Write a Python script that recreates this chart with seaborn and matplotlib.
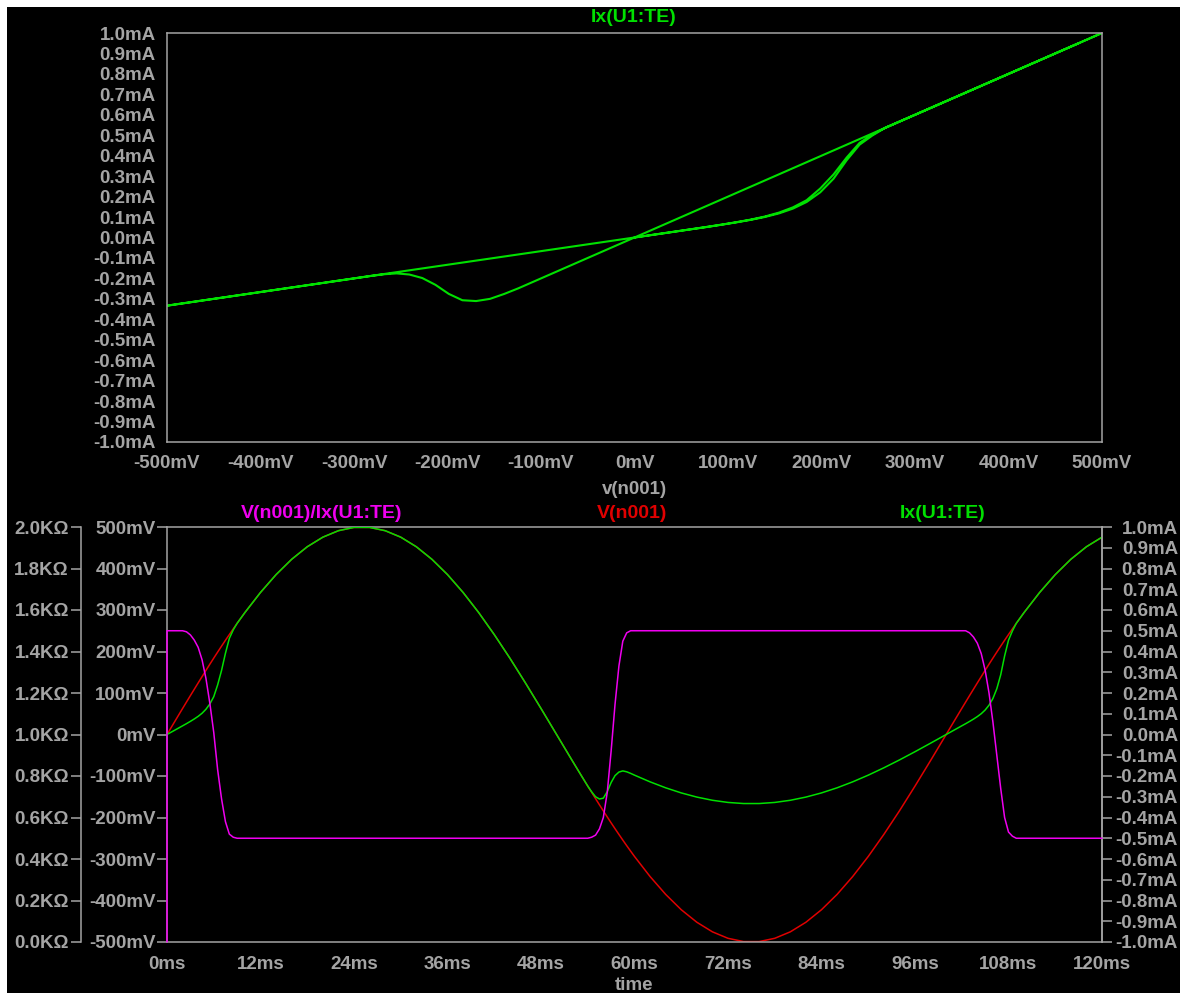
import matplotlib
matplotlib.use("Agg")
import matplotlib.pyplot as plt
from matplotlib.patches import Rectangle
import seaborn as sns

# ---- transient samples -------------------------------------------------
t_ms = [0, 0, 0.5, 1, 1.5, 2, 2.5, 3, 3.5, 4, 4.5, 5, 5.5, 6, 6.5, 7, 7.5, 8, 8.5, 9,
        10, 12, 14, 16, 18, 20, 22, 24, 26, 28, 30, 32, 34, 36, 38, 40, 42, 44, 46, 48, 50, 52,
        53, 53.5, 54, 54.5, 55, 55.5, 56, 56.5, 57, 57.5, 58, 58.5, 59, 59.5, 60,
        62, 64, 66, 68, 70, 72, 74, 76, 78, 80, 82, 84, 86, 88, 90, 92, 94, 96, 98, 100,
        101, 102, 102.5, 103, 103.5, 104, 104.5, 105, 105.5, 106, 106.5, 107, 107.5, 108, 108.5, 109,
        110, 112, 114, 116, 118, 120]

# V(n001) in mV
v_n001_mv = [0, 0, 15.7, 31.4, 47.1, 62.7, 78.2, 93.7, 109.0, 124.3, 139.4, 154.5, 169.4, 184.1, 198.6, 212.9, 227.0, 240.8, 254.5, 267.9,
             293.9, 342.3, 385.3, 422.2, 452.4, 475.5, 491.1, 499.0, 499.0, 491.1, 475.5, 452.4, 422.2, 385.3, 342.3, 293.9, 240.8, 184.1, 124.3, 62.7, 0.0, -62.7,
             -93.7, -109.0, -124.3, -139.4, -154.5, -169.4, -184.1, -198.6, -212.9, -227.0, -240.8, -254.5, -267.9, -281.0, -293.9,
             -342.3, -385.3, -422.2, -452.4, -475.5, -491.1, -499.0, -499.0, -491.1, -475.5, -452.4, -422.2, -385.3, -342.3, -293.9, -240.8, -184.1, -124.3, -62.7, 0.0,
             31.4, 62.7, 78.2, 93.7, 109.0, 124.3, 139.4, 154.5, 169.4, 184.1, 198.6, 212.9, 227.0, 240.8, 254.5, 267.9,
             293.9, 342.3, 385.3, 422.2, 452.4, 475.5]

# Ix(U1:TE) in mA
ix_te_ma = [0, 0, 0.0105, 0.0209, 0.0314, 0.0418, 0.0523, 0.0633, 0.0749, 0.0875, 0.1025, 0.1217, 0.1473, 0.1823, 0.2393, 0.3086, 0.3914, 0.4631, 0.5040, 0.5358,
            0.5878, 0.6846, 0.7706, 0.8444, 0.9048, 0.9510, 0.9822, 0.9980, 0.9980, 0.9822, 0.9510, 0.9048, 0.8444, 0.7706, 0.6846, 0.5878, 0.4816, 0.3682, 0.2486, 0.1254, 0.0, -0.1254,
            -0.1874, -0.2180, -0.2486, -0.2761, -0.3000, -0.3108, -0.3068, -0.2758, -0.2314, -0.1982, -0.1810, -0.1755, -0.1798, -0.1873, -0.1959,
            -0.2282, -0.2569, -0.2815, -0.3016, -0.3170, -0.3274, -0.3327, -0.3327, -0.3274, -0.3170, -0.3016, -0.2815, -0.2569, -0.2282, -0.1959, -0.1605, -0.1227, -0.0829, -0.0418, 0.0,
            0.0209, 0.0418, 0.0521, 0.0629, 0.0741, 0.0863, 0.1003, 0.1179, 0.1412, 0.1737, 0.2207, 0.2877, 0.3783, 0.4543, 0.4990, 0.5358,
            0.5878, 0.6846, 0.7706, 0.8444, 0.9048, 0.9510]

# V(n001)/Ix(U1:TE) in kOhm
r_kohm = [0, 1.5, 1.5, 1.5, 1.5, 1.5, 1.495, 1.48, 1.455, 1.42, 1.36, 1.27, 1.15, 1.01, 0.83, 0.69, 0.58, 0.52, 0.505, 0.5,
          0.5, 0.5, 0.5, 0.5, 0.5, 0.5, 0.5, 0.5, 0.5, 0.5, 0.5, 0.5, 0.5, 0.5, 0.5, 0.5, 0.5, 0.5, 0.5, 0.5, 0.5, 0.5,
          0.5, 0.5, 0.5, 0.505, 0.515, 0.545, 0.60, 0.72, 0.92, 1.145, 1.33, 1.45, 1.49, 1.5, 1.5,
          1.5, 1.5, 1.5, 1.5, 1.5, 1.5, 1.5, 1.5, 1.5, 1.5, 1.5, 1.5, 1.5, 1.5, 1.5, 1.5, 1.5, 1.5, 1.5, 1.5,
          1.5, 1.5, 1.5, 1.49, 1.47, 1.44, 1.39, 1.31, 1.20, 1.06, 0.90, 0.74, 0.60, 0.53, 0.51, 0.5,
          0.5, 0.5, 0.5, 0.5, 0.5, 0.5]

# ---- axis ticks ----------------------------------------------------------
mv_ticks = [-500, -400, -300, -200, -100, 0, 100, 200, 300, 400, 500]
ma_ticks = [-1.0, -0.9, -0.8, -0.7, -0.6, -0.5, -0.4, -0.3, -0.2, -0.1, 0.0,
            0.1, 0.2, 0.3, 0.4, 0.5, 0.6, 0.7, 0.8, 0.9, 1.0]
kohm_ticks = [0.0, 0.2, 0.4, 0.6, 0.8, 1.0, 1.2, 1.4, 1.6, 1.8, 2.0]
ms_ticks = [0, 12, 24, 36, 48, 60, 72, 84, 96, 108, 120]

mv_labels = [f"{v}mV" for v in mv_ticks]
ma_labels = [f"{v:.1f}mA" for v in ma_ticks]
kohm_labels = [f"{v:.1f}KΩ" for v in kohm_ticks]
ms_labels = [f"{v}ms" for v in ms_ticks]

# ---- style --------------------------------------------------------------
sns.set_theme(style="dark")
plt.rcParams["font.family"] = ["Liberation Sans", "DejaVu Sans"]
plt.rcParams["font.weight"] = "bold"

GRAY = "#a4a4a4"
GREEN = "#00e000"
RED = "#e00000"
MAGENTA = "#f000f0"
FS = 13.5

W, H = 1184, 994
fig = plt.figure(figsize=(W / 100, H / 100), dpi=100, facecolor="white")


def fx(x):
    return x / W


def fy(y):
    return 1 - y / H


fig.add_artist(Rectangle((fx(7), fy(993)), (1180 - 7) / W, (993 - 7) / H,
                         transform=fig.transFigure, facecolor="black",
                         edgecolor="none", zorder=-10))


def style_axis(ax):
    ax.set_facecolor("black")
    ax.grid(False)
    for s in ax.spines.values():
        s.set_color(GRAY)
        s.set_linewidth(1.1)
    ax.tick_params(colors=GRAY, labelcolor=GRAY, labelsize=FS, length=7.2,
                   width=1.1, direction="out")
    ax.set_xlabel("")
    ax.set_ylabel("")


# ---- upper panel: Ix vs V ------------------------------------------------
ax1 = fig.add_axes([fx(167), fy(442), (1102 - 167) / W, (442 - 33) / H])
sns.lineplot(x=v_n001_mv, y=ix_te_ma, ax=ax1, color=GREEN, linewidth=1.5,
             sort=False, estimator=None)
ax1.set_xlim(-500, 500)
ax1.set_ylim(-1.0, 1.0)
style_axis(ax1)
ax1.set_xticks(mv_ticks, mv_labels, fontweight="bold")
ax1.set_yticks(ma_ticks, ma_labels, fontweight="bold")
ax1.tick_params(axis="x", pad=2.5)
ax1.tick_params(axis="y", pad=1)

fig.text(fx(634), fy(18), "Ix(U1:TE)", color=GREEN, fontsize=14,
         fontweight="bold", ha="center", va="center")
fig.text(fx(634), fy(490), "v(n001)", color=GRAY, fontsize=FS,
         fontweight="bold", ha="center", va="center")

# ---- lower panel: transient traces ---------------------------------------
ax2 = fig.add_axes([fx(167), fy(942), (1102 - 167) / W, (942 - 527) / H])
sns.lineplot(x=t_ms, y=v_n001_mv, ax=ax2, color=RED, linewidth=1.1,
             sort=False, estimator=None)
ax2.set_xlim(0, 120)
ax2.set_ylim(-500, 500)
style_axis(ax2)
ax2.set_xticks(ms_ticks, ms_labels, fontweight="bold")
ax2.set_yticks(mv_ticks, mv_labels, fontweight="bold")
ax2.tick_params(axis="x", pad=3)
ax2.tick_params(axis="y", pad=1)

ax3 = ax2.twinx()
sns.lineplot(x=t_ms, y=ix_te_ma, ax=ax3, color=GREEN, linewidth=1.1,
             sort=False, estimator=None)
ax3.set_xlim(0, 120)
ax3.set_ylim(-1.0, 1.0)
style_axis(ax3)
ax3.set_facecolor("none")
for side in ("left", "top", "bottom"):
    ax3.spines[side].set_visible(False)
ax3.set_yticks(ma_ticks, ma_labels, fontweight="bold", ha="right")
ax3.tick_params(axis="y", pad=47.5)

ax4 = ax2.twinx()
sns.lineplot(x=t_ms, y=r_kohm, ax=ax4, color=MAGENTA, linewidth=1.1,
             sort=False, estimator=None, clip_on=False)
ax4.set_xlim(0, 120)
ax4.set_ylim(0, 2.0)
style_axis(ax4)
ax4.set_facecolor("none")
for side in ("right", "top", "bottom"):
    ax4.spines[side].set_visible(False)
ax4.spines["left"].set_visible(True)
ax4.spines["left"].set_position(("outward", 61.9))
ax4.yaxis.set_ticks_position("left")
ax4.yaxis.set_label_position("left")
ax4.set_yticks(kohm_ticks, kohm_labels, fontweight="bold")
ax4.tick_params(axis="y", pad=1.5)

fig.text(fx(322), fy(513), "V(n001)/Ix(U1:TE)", color=MAGENTA, fontsize=14,
         fontweight="bold", ha="center", va="center")
fig.text(fx(632), fy(513), "V(n001)", color=RED, fontsize=14,
         fontweight="bold", ha="center", va="center")
fig.text(fx(943), fy(513), "Ix(U1:TE)", color=GREEN, fontsize=14,
         fontweight="bold", ha="center", va="center")
fig.text(fx(634), fy(985), "time", color=GRAY, fontsize=FS,
         fontweight="bold", ha="center", va="center")

fig.savefig("out.png", dpi=100, facecolor="white")
